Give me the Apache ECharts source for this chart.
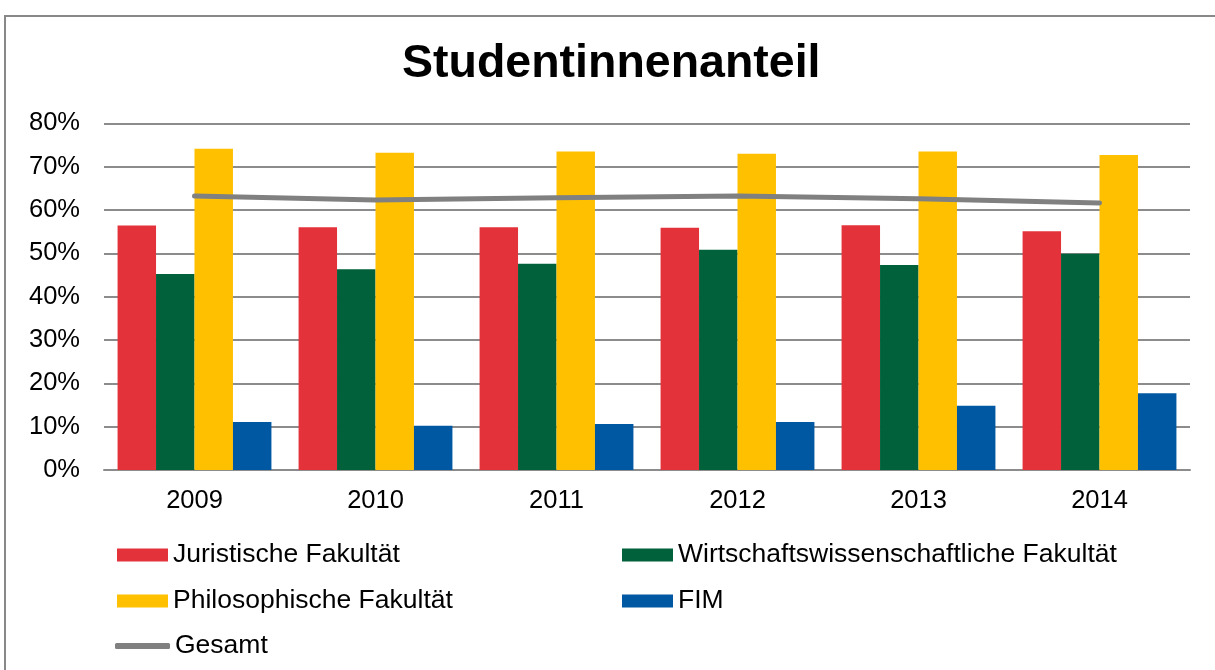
<!DOCTYPE html>
<html>
<head>
<meta charset="utf-8">
<script src="https://cdn.jsdelivr.net/npm/echarts@6/dist/echarts.min.js"></script>
<style>
html,body{margin:0;padding:0;background:#fff;}
#frame{position:absolute;left:4px;top:15px;width:1400px;height:800px;border-left:2px solid #888;border-top:2px solid #888;box-sizing:border-box;}
#chart{position:absolute;left:0;top:0;width:1215px;height:670px;}
</style>
</head>
<body>
<div id="frame"></div>
<div id="chart"></div>
<script>
const categories = ['2009','2010','2011','2012','2013','2014'];
const juristische = [56.4, 56.0, 56.0, 55.9, 56.5, 55.1];
const wirtschaft = [45.2, 46.3, 47.6, 50.8, 47.3, 49.9];
const philosophische = [74.1, 73.2, 73.5, 73.0, 73.5, 72.7];
const fim = [11.1, 10.2, 10.6, 11.1, 14.8, 17.7];
const gesamt = [63.2, 62.3, 62.8, 63.2, 62.6, 61.6];
const yTicks = [0, 10, 20, 30, 40, 50, 60, 70, 80];

const FONT = '"Liberation Sans", Arial, sans-serif';
const legendText = {fontSize: 26.5, fontFamily: FONT, color: '#000', lineHeight: 30};

function leg(name, left, top, extra) {
  return Object.assign({
    data: [name], left: left, top: top, icon: 'rect', itemWidth: 51, itemHeight: 13,
    itemGap: 0, textStyle: legendText, selectedMode: false, padding: 0
  }, extra || {});
}

const chart = echarts.init(document.getElementById('chart'), null, {renderer: 'canvas'});
chart.setOption({
  animation: false,
  backgroundColor: 'transparent',
  title: {
    text: 'Studentinnenanteil', left: 402, top: 41, padding: 0,
    textStyle: {fontSize: 46.5, fontWeight: 'bold', fontFamily: FONT, color: '#000'}
  },
  legend: [
    leg('Juristische Fakultät', 117, 540),
    leg('Wirtschaftswissenschaftliche Fakultät', 622, 540),
    leg('Philosophische Fakultät', 117, 586),
    leg('FIM', 622, 586),
    leg('Gesamt', 115, 631, {icon: 'roundRect', itemWidth: 55, itemHeight: 6})
  ],
  grid: {left: 104, right: 25, top: 123.3, bottom: 200, containLabel: false},
  xAxis: {
    type: 'category', data: categories,
    axisLine: {show: true, lineStyle: {color: '#8c8c8c', width: 2}},
    axisTick: {show: false},
    axisLabel: {fontSize: 25.5, fontFamily: FONT, color: '#000', margin: 18}
  },
  yAxis: {
    type: 'value', min: yTicks[0], max: yTicks[yTicks.length - 1], interval: 10,
    axisLine: {show: false}, axisTick: {show: false},
    splitLine: {lineStyle: {color: '#8c8c8c', width: 2}},
    axisLabel: {fontSize: 25.5, fontFamily: FONT, color: '#000', margin: 24, formatter: '{value}%'}
  },
  series: [
    {name: 'Juristische Fakultät', type: 'bar', data: juristische, itemStyle: {color: '#E4323A'}, barGap: '0%', barCategoryGap: '15%'},
    {name: 'Wirtschaftswissenschaftliche Fakultät', type: 'bar', data: wirtschaft, itemStyle: {color: '#00613A'}},
    {name: 'Philosophische Fakultät', type: 'bar', data: philosophische, itemStyle: {color: '#FFC000'}},
    {name: 'FIM', type: 'bar', data: fim, itemStyle: {color: '#0058A2'}},
    {name: 'Gesamt', type: 'line', data: gesamt, symbol: 'none', showSymbol: false,
     itemStyle: {color: '#808080'},
     lineStyle: {color: '#808080', width: 5, cap: 'round', join: 'round'}, z: 5}
  ]
});
</script>
</body>
</html>
